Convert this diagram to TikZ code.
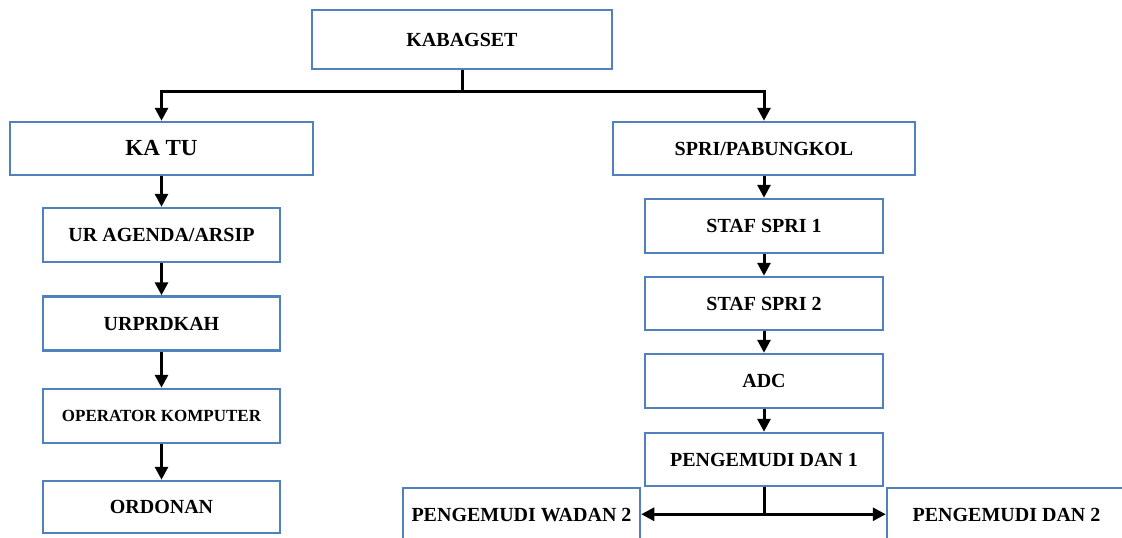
\documentclass[tikz,border=0pt]{standalone}
\usepackage{fontspec}
\setmainfont{Liberation Serif}
\usetikzlibrary{arrows.meta}
\definecolor{boxblue}{RGB}{79,129,189}
\tikzset{
  orgbox/.style={draw=boxblue, line width=2.5pt, fill=white, inner sep=0pt,
    align=center, font=\bfseries\fontsize{20}{24}\selectfont},
  conn/.style={line width=3pt, black},
  arr/.style={conn, -{Triangle[width=13pt,length=13pt]}},
  darr/.style={conn, {Triangle[width=13pt,length=13pt]}-{Triangle[width=13pt,length=13pt]}}
}
\begin{document}
\begin{tikzpicture}[x=1pt,y=-1pt]
\useasboundingbox[fill=white] (0,0) rectangle (1122,538);
% top
\node[orgbox, minimum width=300pt, minimum height=59pt] (kab) at (462,39.5) {KABAGSET};
% left column
\node[orgbox, minimum width=303pt, minimum height=53pt, font=\bfseries\fontsize{23}{27}\selectfont] (katu) at (161.5,148.5) {KA TU};
\node[orgbox, minimum width=237pt, minimum height=54pt] (ur) at (161.5,235) {UR AGENDA/ARSIP};
\node[orgbox, minimum width=237pt, minimum height=54pt] (urp) at (161.5,323.5) {URPRDKAH};
\node[orgbox, minimum width=237pt, minimum height=54pt, font=\bfseries\fontsize{17}{20}\selectfont] (op) at (161.5,416) {OPERATOR KOMPUTER};
\node[orgbox, minimum width=237pt, minimum height=52pt] (ord) at (161.5,507) {ORDONAN};
% right column
\node[orgbox, minimum width=302pt, minimum height=53pt] (spri) at (764,148.5) {SPRI/PABUNGKOL};
\node[orgbox, minimum width=238pt, minimum height=54pt] (s1) at (764,226) {STAF SPRI 1};
\node[orgbox, minimum width=238pt, minimum height=53pt] (s2) at (764,303.5) {STAF SPRI 2};
\node[orgbox, minimum width=238pt, minimum height=54pt] (adc) at (764,381) {ADC};
\node[orgbox, minimum width=238pt, minimum height=53pt] (pd1) at (764,459.5) {PENGEMUDI DAN 1};
\node[orgbox, minimum width=237pt, minimum height=54pt] (wadan) at (521.5,515) {PENGEMUDI WADAN 2};
\node[orgbox, minimum width=239pt, minimum height=54pt] (dan2) at (1006.5,515) {PENGEMUDI DAN 2};
% connectors
\draw[conn] (kab.south) -- ++(0,21) coordinate (j);
\draw[arr] (j) -| (katu.north);
\draw[arr] (j) -| (spri.north);
\draw[arr] (katu) -- (ur);
\draw[arr] (ur) -- (urp);
\draw[arr] (urp) -- (op);
\draw[arr] (op) -- (ord);
\draw[arr] (spri) -- (s1);
\draw[arr] (s1) -- (s2);
\draw[arr] (s2) -- (adc);
\draw[arr] (adc) -- (pd1);
\draw[conn] (pd1.south) -- ++(0,27) coordinate (k);
\draw[darr] (wadan.east |- k) -- (dan2.west |- k);
\end{tikzpicture}
\end{document}
